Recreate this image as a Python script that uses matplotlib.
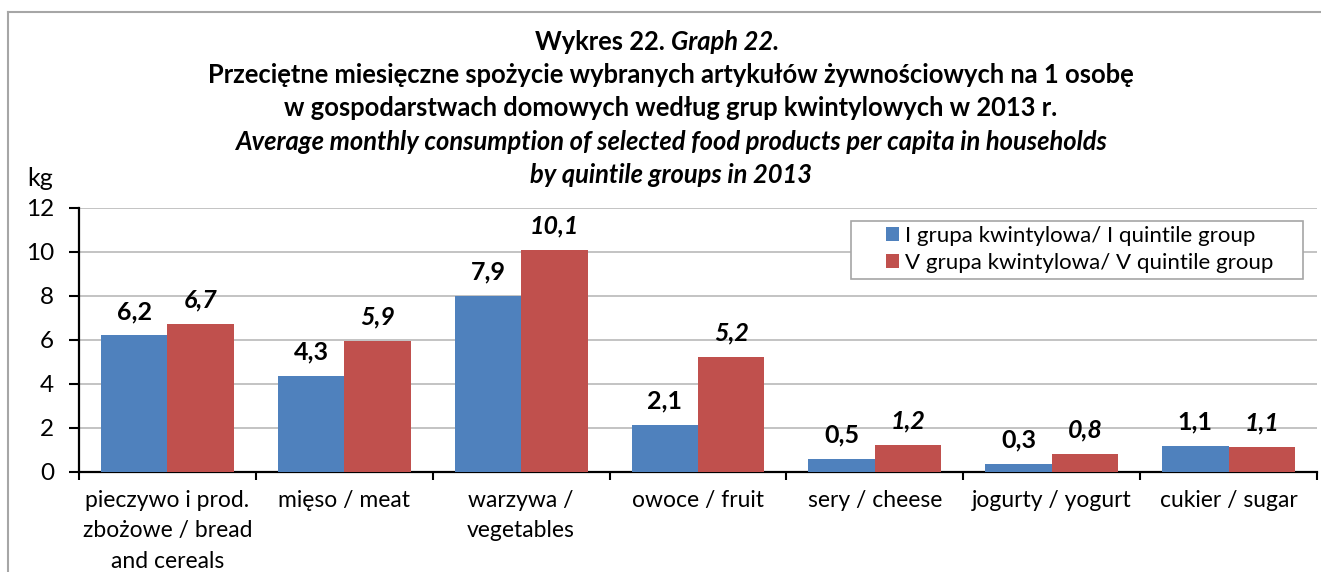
import numpy as np
import matplotlib
matplotlib.use("Agg")
import matplotlib.pyplot as plt
from matplotlib.lines import Line2D
from matplotlib.patches import Rectangle
from matplotlib.ticker import FixedLocator

plt.rcParams['font.family'] = ['Lato', 'DejaVu Sans']

categories = ["pieczywo i prod.\nzbożowe / bread\nand cereals", "mięso / meat",
              "warzywa /\nvegetables", "owoce / fruit", "sery / cheese",
              "jogurty / yogurt", "cukier / sugar"]
q1_values = [6.2, 4.38, 8.0, 2.12, 0.58, 0.35, 1.18]
q5_values = [6.73, 5.95, 10.09, 5.21, 1.21, 0.8, 1.14]
q1_labels = ["6,2", "4,3", "7,9", "2,1", "0,5", "0,3", "1,1"]
q5_labels = ["6,7", "5,9", "10,1", "5,2", "1,2", "0,8", "1,1"]
series_names = ["I grupa kwintylowa/ I quintile group", "V grupa kwintylowa/ V quintile group"]
title_lines = [
    ("Wykres 22. ", "Graph 22."),
    "Przeciętne miesięczne spożycie wybranych artykułów żywnościowych na 1 osobę",
    "w gospodarstwach domowych według grup kwintylowych w 2013 r.",
    "Average monthly consumption of selected food products per capita in households",
    "by quintile groups in 2013",
]

blue = "#4F81BD"
red = "#C0504D"

W, H = 1321, 572
fig = plt.figure(figsize=(W / 100, H / 100), dpi=100)
ax = fig.add_axes([79 / W, 1 - 472 / H, (1317 - 79) / W, (472 - 207.7) / H])

x = np.arange(len(categories))
bw = 0.376
ax.bar(x - bw / 2, q1_values, bw, color=blue, label=series_names[0], zorder=3)
ax.bar(x + bw / 2, q5_values, bw, color=red, label=series_names[1], zorder=3)

for i in range(len(x)):
    ax.annotate(q1_labels[i], (x[i] - bw / 2, q1_values[i]), xytext=(0, 9),
                textcoords="offset points", ha="center", va="bottom",
                fontsize=18, fontweight="bold")
    ax.annotate(q5_labels[i], (x[i] + bw / 2, q5_values[i]), xytext=(0, 9),
                textcoords="offset points", ha="center", va="bottom",
                fontsize=18, fontweight="bold", fontstyle="italic")

ax.set_xlim(-0.5, len(categories) - 0.5)
ax.set_ylim(0, 12)
ax.set_yticks(range(0, 13, 2))
ax.tick_params(axis="y", labelsize=17.5, length=7, width=1.5, pad=11)
ax.set_xticks(x)
ax.set_xticklabels(categories, fontsize=16.5, linespacing=1.55)
ax.tick_params(axis="x", which="major", length=0, pad=13)
ax.xaxis.set_minor_locator(FixedLocator(np.arange(-0.5, len(categories), 1)))
ax.tick_params(axis="x", which="minor", length=6, width=1.5)

ax.grid(axis="y", color="#BEBEBE", linewidth=1.3, zorder=0)
for s in ["top", "right"]:
    ax.spines[s].set_visible(False)
for s in ["left", "bottom"]:
    ax.spines[s].set_linewidth(1.6)

# legend: entries without frame, frame drawn as a separate box
leg = ax.legend(loc="upper left", bbox_to_anchor=(886 / W, 1 - 226 / H), bbox_transform=fig.transFigure,
                fontsize=16, frameon=False, handlelength=0.6, handleheight=0.6,
                handletextpad=0.25, borderpad=0, labelspacing=0.3, borderaxespad=0)
leg.set_zorder(6)
ax.add_patch(Rectangle((851 / W, 1 - 279 / H), (1303 - 851) / W, (279 - 221) / H,
                       transform=fig.transFigure, facecolor="white", edgecolor="#A6A6A6",
                       linewidth=1.2, zorder=5, clip_on=False))

fig.text(40 / W, 1 - 179 / H, "kg", fontsize=18, ha="center", va="center")

# title
ys = [42, 75, 108, 142, 175]
cx = 671 / W
fs = 18.4
fig.text(cx, 1 - ys[0] / H, title_lines[0][0], fontsize=fs, fontweight="bold", ha="right", va="center")
fig.text(cx, 1 - ys[0] / H, title_lines[0][1], fontsize=fs, fontweight="bold", fontstyle="italic", ha="left", va="center")
for line, yy in zip(title_lines[1:3], ys[1:3]):
    fig.text(cx, 1 - yy / H, line, fontsize=fs, fontweight="bold", ha="center", va="center")
for line, yy in zip(title_lines[3:], ys[3:]):
    fig.text(cx, 1 - yy / H, line, fontsize=fs, fontweight="bold", fontstyle="italic", ha="center", va="center")

# outer frame (top and left edge visible)
fig.add_artist(Line2D([8 / W, 1], [1 - 12 / H, 1 - 12 / H], color="#A6A6A6", linewidth=1.5))
fig.add_artist(Line2D([8 / W, 8 / W], [0, 1 - 12 / H], color="#A6A6A6", linewidth=1.5))

fig.savefig("out.png", dpi=100)
